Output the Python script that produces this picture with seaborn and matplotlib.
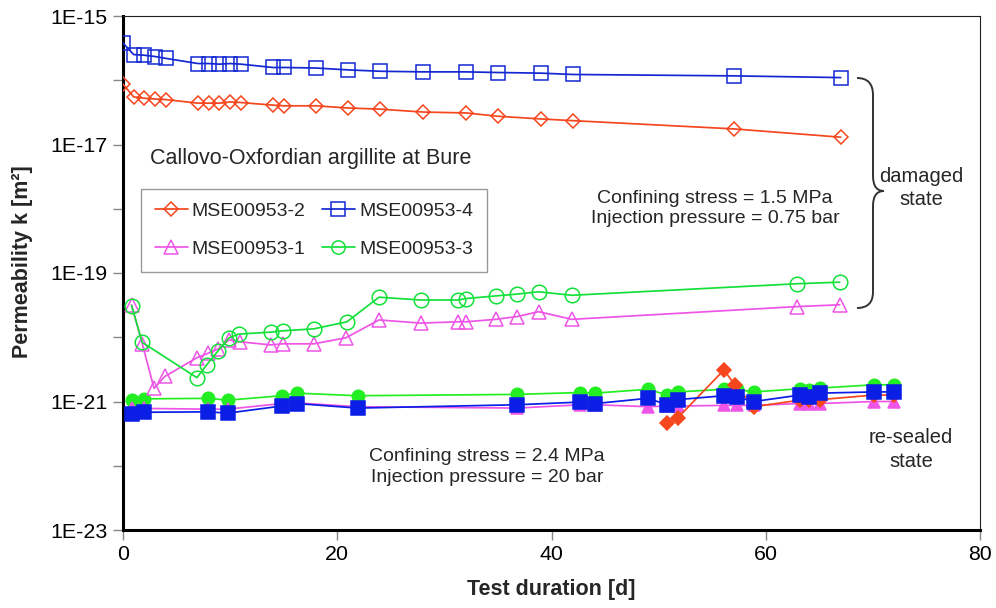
import numpy as np
import matplotlib
matplotlib.use("Agg")
import matplotlib.pyplot as plt
import seaborn as sns
from matplotlib.lines import Line2D
from matplotlib.path import Path
from matplotlib.patches import PathPatch
from matplotlib.transforms import Affine2D
from matplotlib.ticker import FixedLocator, FuncFormatter, NullLocator

# ---------------- data ----------------
# damaged state (open markers)
days_dmg_24 = [0, 1, 2, 3, 4, 7, 8, 9, 10, 11, 14, 15, 18, 21, 24, 28, 32, 35, 39, 42, 57, 67]
k_mse2_dmg = [8.7e-17, 5.5e-17, 5.25e-17, 5.1e-17, 5.0e-17, 4.4e-17, 4.4e-17, 4.4e-17, 4.6e-17, 4.5e-17,
              4.1e-17, 4.0e-17, 4.0e-17, 3.7e-17, 3.55e-17, 3.2e-17, 3.1e-17, 2.75e-17, 2.5e-17, 2.35e-17,
              1.75e-17, 1.3e-17]
k_mse4_dmg = [3.8e-16, 2.51e-16, 2.45e-16, 2.34e-16, 2.19e-16, 1.82e-16, 1.82e-16, 1.78e-16, 1.82e-16, 1.78e-16,
              1.58e-16, 1.58e-16, 1.55e-16, 1.45e-16, 1.38e-16, 1.35e-16, 1.35e-16, 1.32e-16, 1.29e-16, 1.23e-16,
              1.17e-16, 1.10e-16]

days_dmg_1 = [0.8, 1.8, 2.9, 3.9, 6.9, 7.9, 8.9, 9.9, 10.9, 13.8, 14.9, 17.8, 20.8, 23.9, 27.8, 31.3, 32.0,
              34.8, 36.8, 38.8, 41.9, 62.9, 66.9]
k_mse1_dmg = [3.2e-20, 7.9e-21, 1.6e-21, 2.45e-21, 4.8e-21, 5.6e-21, 6.6e-21, 9.1e-21, 8.5e-21, 7.6e-21,
              7.9e-21, 7.9e-21, 9.8e-21, 1.86e-20, 1.66e-20, 1.74e-20, 1.74e-20, 1.9e-20, 2.1e-20, 2.5e-20,
              1.9e-20, 3.0e-20, 3.2e-20]

days_dmg_3 = [0.8, 1.8, 6.9, 7.8, 8.9, 9.9, 10.8, 13.8, 14.9, 17.8, 20.9, 23.9, 27.8, 31.3, 32.0, 34.8, 36.8,
              38.8, 41.9, 62.9, 66.9]
k_mse3_dmg = [3.1e-20, 8.3e-21, 2.35e-21, 3.7e-21, 6.2e-21, 9.8e-21, 1.12e-20, 1.2e-20, 1.26e-20, 1.35e-20,
              1.74e-20, 4.2e-20, 3.8e-20, 3.8e-20, 4.0e-20, 4.4e-20, 4.7e-20, 5.1e-20, 4.5e-20, 6.8e-20, 7.2e-20]

# re-sealed state (filled markers)
days_rs = [0.8, 2.0, 7.9, 9.8, 14.8, 16.2, 21.9, 36.8, 42.7, 44.1, 49.0, 50.8, 51.8, 56.1, 57.3, 58.9,
           63.2, 64.0, 65.1, 70.1, 72.0]
k_mse3_rs = [1.05e-21, 1.10e-21, 1.12e-21, 1.05e-21, 1.23e-21, 1.35e-21, 1.23e-21, 1.29e-21, 1.38e-21, 1.35e-21,
             1.55e-21, 1.26e-21, 1.41e-21, 1.55e-21, 1.55e-21, 1.41e-21, 1.58e-21, 1.51e-21, 1.62e-21, 1.82e-21,
             1.82e-21]
k_mse1_rs = [7.8e-22, 7.8e-22, 7.6e-22, 7.6e-22, 9.3e-22, 9.5e-22, 8.3e-22, 7.9e-22, 8.9e-22, 8.9e-22,
             8.3e-22, 8.5e-22, 8.5e-22, 8.7e-22, 8.7e-22, 8.7e-22, 9.3e-22, 9.3e-22, 9.3e-22, 1.0e-21, 1.0e-21]
k_mse4_rs = [6.5e-22, 6.8e-22, 6.9e-22, 6.6e-22, 8.5e-22, 9.3e-22, 7.9e-22, 8.9e-22, 9.8e-22, 9.3e-22,
             1.12e-21, 8.9e-22, 1.07e-21, 1.23e-21, 1.17e-21, 1.0e-21, 1.26e-21, 1.17e-21, 1.35e-21, 1.41e-21,
             1.41e-21]
days_rs_2 = [50.8, 51.8, 56.1, 57.1, 58.9, 63.2, 64.0, 65.1, 70.1, 72.0]
k_mse2_rs = [4.7e-22, 5.6e-22, 3.1e-21, 1.82e-21, 8.3e-22, 1.05e-21, 1.05e-21, 1.07e-21, 1.26e-21, 1.26e-21]

labels = ["MSE00953-2", "MSE00953-4", "MSE00953-1", "MSE00953-3"]
x_ticks = [0, 20, 40, 60, 80]

# ---------------- style ----------------
C_RED = "#f5461e"
C_BLUE = "#1428d2"
C_MAG = "#ee55e6"
C_GRN = "#14e03a"
C_BLUE_F = "#0a1ee6"
C_GRN_F = "#22ee22"

sns.set_style("ticks")
plt.rcParams["font.family"] = ["Liberation Sans", "DejaVu Sans"]

W, H = 996, 608
fig = plt.figure(figsize=(W / 100, H / 100), dpi=100)
ax = fig.add_axes([123 / W, 1 - 530 / H, 857 / W, 514 / H])
ax.set_yscale("log")


def draw(days, k, color, marker, ms, filled, z):
    sns.lineplot(x=days, y=k, ax=ax, color=color, marker=marker, markersize=ms,
                 markerfacecolor=color if filled else "none", markeredgecolor=color,
                 markeredgewidth=1.1, linewidth=1.25, estimator=None, sort=False,
                 legend=False, zorder=z)


# re-sealed (drawn first, filled)
draw(days_rs, k_mse3_rs, C_GRN_F, "o", 9.0, True, 3.0)
draw(days_rs, k_mse1_rs, C_MAG, "^", 9.0, True, 3.1)
draw(days_rs_2, k_mse2_rs, C_RED, "D", 7.0, True, 3.2)
draw(days_rs, k_mse4_rs, C_BLUE_F, "s", 9.8, True, 3.3)

# damaged (open)
draw(days_dmg_24, k_mse2_dmg, C_RED, "D", 7.6, False, 4)
draw(days_dmg_24, k_mse4_dmg, C_BLUE, "s", 9.6, False, 4)
draw(days_dmg_1, k_mse1_dmg, C_MAG, "^", 10.0, False, 4)
draw(days_dmg_3, k_mse3_dmg, C_GRN, "o", 10.5, False, 4.1)

ax.set_xlim(0, 80)
ax.set_ylim(1e-23, 1e-15)
ax.xaxis.set_major_locator(FixedLocator(x_ticks))
ax.yaxis.set_major_locator(FixedLocator([10.0 ** e for e in range(-23, -14)]))
ax.yaxis.set_minor_locator(NullLocator())


def yfmt(v, p):
    e = int(round(np.log10(v)))
    return f"1E{e}" if e % 2 else ""


ax.yaxis.set_major_formatter(FuncFormatter(yfmt))
ax.tick_params(axis="both", direction="out", length=7, width=1, color="#888888",
               labelsize=15.4, labelcolor="black", pad=4)

for s in ["left", "bottom"]:
    ax.spines[s].set_linewidth(2.2)
    ax.spines[s].set_color("black")
for s in ["top", "right"]:
    ax.spines[s].set_visible(True)
    ax.spines[s].set_linewidth(0.8)
    ax.spines[s].set_color("#222222")

ax.set_xlabel("Test duration [d]", fontsize=15.5, fontweight="bold")
ax.set_ylabel("Permeability k [m²]", fontsize=15.5, fontweight="bold")
ax.xaxis.set_label_coords((551 - 123) / 857, (530 - 590) / 514)
ax.xaxis.label.set_va("center")
ax.yaxis.set_label_coords((23 - 123) / 857, (530 - 262) / 514)
ax.yaxis.label.set_va("center")

# legend
def h(color, marker, ms):
    return Line2D([], [], color=color, marker=marker, markersize=ms, markerfacecolor="none",
                  markeredgecolor=color, markeredgewidth=1.1, linewidth=1.25)

handles = [h(C_RED, "D", 7.6), h(C_MAG, "^", 10.0), h(C_BLUE, "s", 9.6), h(C_GRN, "o", 9.6)]
leg_labels = [labels[0], labels[2], labels[1], labels[3]]
leg = ax.legend(handles, leg_labels, ncol=2, loc="upper left",
                bbox_to_anchor=((141 - 123) / 857, (530 - 189) / 514), borderaxespad=0,
                frameon=True, fancybox=False, fontsize=14, handlelength=1.7, handletextpad=0.2,
                columnspacing=0.85, labelspacing=1.05, borderpad=0.7)
leg.get_frame().set_edgecolor("#808080")
leg.get_frame().set_linewidth(1.0)


def ftxt(px, py, s, **kw):
    fig.text(px / W, 1 - py / H, s, **kw)


ftxt(150, 158, "Callovo-Oxfordian argillite at Bure", ha="left", va="center", fontsize=15.5)
ftxt(715, 208.5, "Confining stress = 1.5 MPa\nInjection pressure = 0.75 bar", ha="center",
     va="center", fontsize=14, linespacing=1.25)
ftxt(921, 188, "damaged\nstate", ha="center", va="center", fontsize=14.5, linespacing=1.3)
ftxt(911, 449.5, "re-sealed\nstate", ha="center", va="center", fontsize=14.5, linespacing=1.3)
ftxt(487, 467, "Confining stress = 2.4 MPa\nInjection pressure = 20 bar", ha="center",
     va="center", fontsize=14, linespacing=1.25)

# curly brace
verts = [(857, 78), (873, 78), (873, 95), (873, 176), (873, 191), (884, 191),
         (873, 191), (873, 206), (873, 292), (873, 308), (857, 308)]
codes = [Path.MOVETO, Path.CURVE3, Path.CURVE3, Path.LINETO, Path.CURVE3, Path.CURVE3,
         Path.CURVE3, Path.CURVE3, Path.LINETO, Path.CURVE3, Path.CURVE3]
pix = Affine2D().scale(1 / W, -1 / H).translate(0, 1) + fig.transFigure
fig.patches.append(PathPatch(Path(verts, codes), transform=pix, fill=False,
                             edgecolor="#333333", linewidth=1.4))

fig.savefig("out.png", dpi=100)
